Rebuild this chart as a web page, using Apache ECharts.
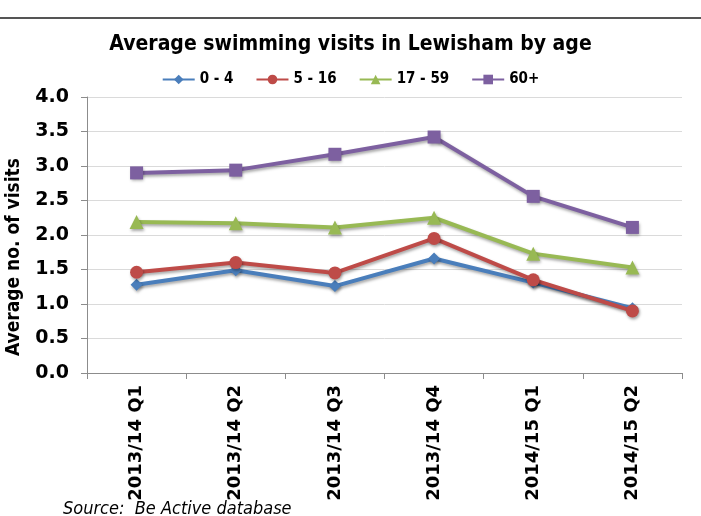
<!DOCTYPE html>
<html>
<head>
<meta charset="utf-8">
<script src="https://cdn.jsdelivr.net/npm/echarts@6/dist/echarts.min.js"></script>
<style>
  html, body { margin: 0; padding: 0; background: #fff; }
  #chart { width: 701px; height: 516px; }
</style>
</head>
<body>
<div id="chart"></div>
<script>
// quarters along the x axis
var quarters = ['2013/14 Q1', '2013/14 Q2', '2013/14 Q3', '2013/14 Q4', '2014/15 Q1', '2014/15 Q2'];

// average visits per age group
var age0to4 = [1.28, 1.49, 1.26, 1.66, 1.31, 0.94];
var age5to16 = [1.46, 1.60, 1.45, 1.95, 1.35, 0.90];
var age17to59 = [2.19, 2.17, 2.11, 2.25, 1.73, 1.53];
var age60plus = [2.90, 2.94, 3.17, 3.42, 2.56, 2.11];

var font = 'DejaVu Sans Condensed';
var wide = 'DejaVu Sans';
var chart = echarts.init(document.getElementById('chart'));

function line(name, data, color, symbol, size) {
  return {
    name: name,
    type: 'line',
    data: data,
    symbol: symbol,
    symbolSize: size,
    lineStyle: { color: color, width: 4, shadowColor: 'rgba(0,0,0,0.35)', shadowBlur: 3, shadowOffsetX: 1, shadowOffsetY: 2 },
    itemStyle: { color: color, shadowColor: 'rgba(0,0,0,0.35)', shadowBlur: 3, shadowOffsetX: 1, shadowOffsetY: 2 }
  };
}

chart.setOption({
  animation: false,
  title: {
    text: 'Average swimming visits in Lewisham by age',
    left: 'center',
    top: 29,
    textStyle: { fontFamily: font, fontWeight: 'bold', fontSize: 21, color: '#000' }
  },
  legend: {
    top: 67,
    left: 'center',
    itemWidth: 32,
    itemHeight: 12,
    itemGap: 22,
    textStyle: { fontFamily: font, fontWeight: 'bold', fontSize: 15, color: '#000' },
    data: ['0 - 4', '5 - 16', '17 - 59', '60+']
  },
  grid: { left: 87, right: 19, top: 97, bottom: 143 },
  xAxis: {
    type: 'category',
    data: quarters,
    boundaryGap: true,
    axisLine: { lineStyle: { color: '#8c8c8c', width: 1 } },
    axisTick: { show: true, length: 6, lineStyle: { color: '#8c8c8c' } },
    axisLabel: {
      rotate: 90,
      margin: 12,
      fontFamily: wide,
      fontWeight: 'bold',
      fontSize: 18,
      color: '#000'
    }
  },
  yAxis: {
    type: 'value',
    min: 0,
    max: 4,
    interval: 0.5,
    axisLine: { show: true, lineStyle: { color: '#8c8c8c' } },
    axisTick: { show: true, length: 6, lineStyle: { color: '#8c8c8c' } },
    splitLine: { lineStyle: { color: '#dadada', width: 1 } },
    axisLabel: {
      margin: 18,
      formatter: function (v) { return v.toFixed(1); },
      fontFamily: wide,
      fontWeight: 'bold',
      fontSize: 19,
      color: '#000'
    }
  },
  series: [
    line('0 - 4', age0to4, '#4a7ebb', 'diamond', 12),
    line('5 - 16', age5to16, '#be4b48', 'circle', 13),
    line('17 - 59', age17to59, '#98b954', 'triangle', 14),
    line('60+', age60plus, '#7d60a0', 'rect', 13)
  ],
  graphic: [
    {
      type: 'line',
      shape: { x1: 0, y1: 18, x2: 701, y2: 18 },
      style: { stroke: '#555', lineWidth: 2 }
    },
    {
      type: 'text',
      x: 14,
      y: 257,
      rotation: Math.PI / 2,
      style: {
        text: 'Average no. of visits',
        font: 'bold 19px "DejaVu Sans Condensed"',
        fill: '#000',
        align: 'center',
        verticalAlign: 'middle'
      }
    },
    {
      type: 'text',
      left: 63,
      top: 500,
      style: { text: 'Source:  Be Active database', font: 'italic 18px "DejaVu Sans Condensed"', fill: '#000' }
    }
  ]
});
</script>
</body>
</html>
